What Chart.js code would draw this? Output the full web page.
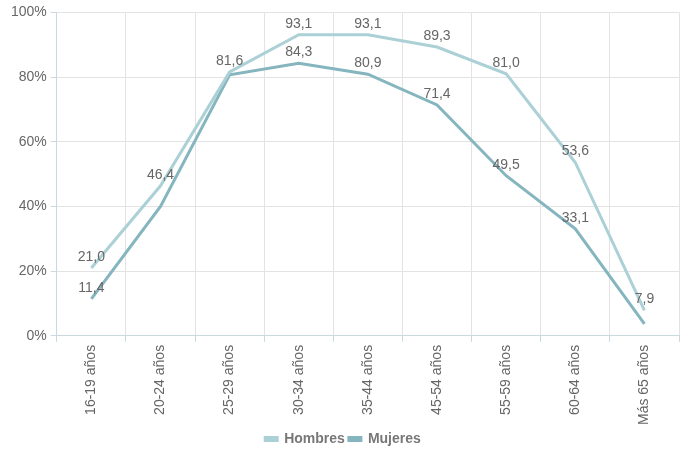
<!DOCTYPE html>
<html>
<head>
<meta charset="utf-8">
<script src="https://cdn.jsdelivr.net/npm/chart.js@4/dist/chart.umd.min.js"></script>
<style>
  html, body { margin: 0; padding: 0; background: #fff; }
  #wrap { width: 685px; height: 450px; }
</style>
</head>
<body>
<div id="wrap"><canvas id="chart"></canvas></div>
<script>
const ageGroups = ["16-19 años", "20-24 años", "25-29 años", "30-34 años", "35-44 años", "45-54 años", "55-59 años", "60-64 años", "Más 65 años"];
const hombres = [21.0, 46.4, 81.6, 93.1, 93.1, 89.3, 81.0, 53.6, 7.9];
const mujeres = [11.4, 40.0, 80.7, 84.3, 80.9, 71.4, 49.5, 33.1, 3.7];
// which points carry a value label (the crowded ones are left bare)
const hombresShow = [true, true, true, true, true, true, true, true, true];
const mujeresShow = [true, false, false, true, true, true, true, true, false];

const fmt = v => v.toFixed(1).replace('.', ',');
const baseFont = '"Liberation Sans", Arial, sans-serif';

// small value-label plugin, text sits just above each point
const valueLabels = {
    id: 'valueLabels',
    afterDatasetsDraw(chart) {
        const ctx = chart.ctx;
        ctx.save();
        ctx.font = '14px ' + baseFont;
        ctx.fillStyle = '#666';
        ctx.textAlign = 'center';
        ctx.textBaseline = 'bottom';
        chart.data.datasets.forEach((ds, i) => {
            const meta = chart.getDatasetMeta(i);
            meta.data.forEach((pt, j) => {
                if (!ds.showLabel[j]) return;
                ctx.fillText(fmt(ds.data[j]), pt.x, pt.y - 4);
            });
        });
        ctx.restore();
    }
};

new Chart(document.getElementById('chart'), {
    type: 'line',
    data: {
        labels: ageGroups,
        datasets: [
            {
                label: 'Hombres',
                data: hombres,
                showLabel: hombresShow,
                borderColor: '#abd0d5',
                backgroundColor: '#abd0d5',
                borderWidth: 3,
                pointRadius: 0,
                tension: 0
            },
            {
                label: 'Mujeres',
                data: mujeres,
                showLabel: mujeresShow,
                borderColor: '#85b5be',
                backgroundColor: '#85b5be',
                borderWidth: 3,
                pointRadius: 0,
                tension: 0
            }
        ]
    },
    options: {
        responsive: true,
        maintainAspectRatio: false,
        animation: false,
        layout: { padding: { top: 7, right: 6, left: 7, bottom: -6 } },
        plugins: {
            legend: {
                position: 'bottom',
                labels: {
                    boxWidth: 12,
                    boxHeight: 3,
                    color: '#777',
                    font: { family: '"Liberation Sans Narrow", ' + baseFont, size: 14, weight: 'bold' },
                    padding: 4
                }
            },
            tooltip: { enabled: false }
        },
        scales: {
            x: {
                offset: true,
                grid: { color: '#e3e3e3', offset: true, tickColor: '#c9d9df', tickLength: 6 },
                border: { color: '#c9d9df', width: 1 },
                ticks: {
                    color: '#666',
                    font: { family: baseFont, size: 14 },
                    minRotation: 90,
                    maxRotation: 90,
                    padding: 3
                }
            },
            y: {
                min: 0,
                max: 100,
                grid: { color: '#e3e3e3', tickColor: '#c9d9df', tickLength: 6 },
                border: { color: '#c9d9df', width: 1 },
                ticks: {
                    stepSize: 20,
                    color: '#666',
                    font: { family: baseFont, size: 14 },
                    padding: 4,
                    callback: v => v + '%'
                }
            }
        }
    },
    plugins: [valueLabels]
});
</script>
</body>
</html>
